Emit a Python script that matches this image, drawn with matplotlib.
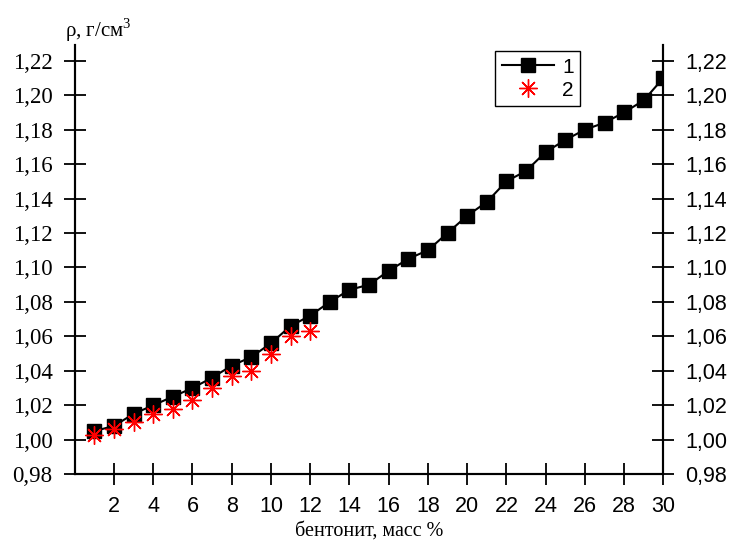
import matplotlib
matplotlib.use("Agg")
import matplotlib.pyplot as plt

# bentonite content, mass %
conc1 = list(range(1, 31))
rho1 = [1.005, 1.008, 1.015, 1.020, 1.025, 1.030, 1.036, 1.043, 1.048, 1.056,
        1.066, 1.072, 1.080, 1.087, 1.090, 1.098, 1.105, 1.110, 1.120, 1.130,
        1.138, 1.150, 1.156, 1.167, 1.174, 1.180, 1.184, 1.190, 1.197, 1.210]

conc2 = list(range(1, 13))
rho2 = [1.003, 1.006, 1.010, 1.015, 1.018, 1.023, 1.030, 1.037, 1.040, 1.050,
        1.060, 1.063]

yticks = [0.98, 1.00, 1.02, 1.04, 1.06, 1.08, 1.10, 1.12, 1.14, 1.16, 1.18, 1.20, 1.22]
ylabels = [("%.2f" % v).replace(".", ",") for v in yticks]
xticks = list(range(2, 31, 2))

plt.rcParams['mathtext.fontset'] = 'custom'
plt.rcParams['mathtext.rm'] = 'Liberation Serif'

fig = plt.figure(figsize=(7.33, 5.45), dpi=100)
ax = fig.add_axes([0.102, 0.130, 0.803, 0.787])

ax.plot(conc1, rho1, color='black', lw=1.5, marker='s', ms=10, label='1', zorder=3)
ax.plot(conc2, rho2, ls='none', color='red', marker=(8, 2, 0), ms=13,
        mew=1.0, label='2', zorder=4)

ax.set_xlim(0, 30)
ax.set_ylim(0.98, 1.229)

ax2 = ax.twinx()
ax2.set_ylim(ax.get_ylim())

ax.tick_params(direction='inout', length=16, width=1.3, pad=8)
ax2.tick_params(direction='inout', length=16, width=1.3, pad=8)

ax.set_xticks(xticks)
ax.set_xticklabels([str(v) for v in xticks], fontfamily='Liberation Sans', fontsize=15.5)
ax.set_yticks(yticks)
ax.set_yticklabels(ylabels, fontfamily='Liberation Serif', fontsize=16.5)
ax2.set_yticks(yticks)
ax2.set_yticklabels(ylabels, fontfamily='Liberation Sans', fontsize=15.5)

for a in (ax, ax2):
    a.spines['top'].set_visible(False)
    for s in ('left', 'right', 'bottom'):
        a.spines[s].set_linewidth(1.5)

ax.set_xlabel('бентонит, масс %', family='Liberation Serif', fontsize=14.5, labelpad=3)
fig.text(0.088, 0.932, r'ρ, г/см$^\mathrm{3}$', family='Liberation Serif', fontsize=15)

leg = ax.legend(loc='upper left', bbox_to_anchor=(0.697, 1.01), fancybox=False,
                edgecolor='black', framealpha=1, prop={'family': 'Liberation Sans', 'size': 15},
                handlelength=2.5, handletextpad=0.4, borderpad=0.3, labelspacing=0.2)
leg.get_frame().set_linewidth(1.0)

fig.savefig('out.png', dpi=100)
